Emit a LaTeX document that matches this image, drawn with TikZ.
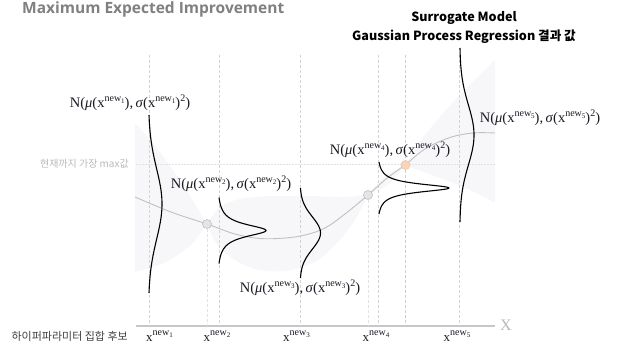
\documentclass[tikz,border=0pt]{standalone}
\usepackage{fontspec}
\newfontfamily\kr{Noto Sans CJK KR}
\newfontfamily\osans{Open Sans}
\newfontfamily\lser{Liberation Serif}
\definecolor{bandc}{RGB}{247,247,250}
\definecolor{gridc}{RGB}{210,210,210}
\definecolor{gridl}{RGB}{226,226,226}
\definecolor{meanc}{RGB}{192,192,192}
\definecolor{orangec}{RGB}{240,195,165}
\definecolor{orangef}{RGB}{249,212,188}
\definecolor{titlec}{RGB}{128,128,128}
\definecolor{lightt}{RGB}{185,185,185}
\definecolor{darkt}{RGB}{64,64,64}
\definecolor{labc}{RGB}{25,25,35}
\newcommand\supn[1]{\raisebox{0.42em}{\fontsize{10}{12}\selectfont new\raisebox{-0.22em}{\fontsize{7}{8}\selectfont #1}}}
\newcommand\nlab[1]{\lser N(\textit{μ}(x\supn{#1}),\,\textit{σ}(x\supn{#1})\raisebox{0.42em}{\fontsize{10}{12}\selectfont 2})}
\newcommand\xlab[1]{\lser x\supn{#1}}
\begin{document}
\begin{tikzpicture}[x=1pt,y=-1pt,
  band/.style={fill=bandc,draw=none},
  vgrid/.style={draw=gridc,line width=0.7pt,dash pattern=on 3pt off 2pt},
  vgridl/.style={draw=gridl,line width=0.7pt,dash pattern=on 3pt off 2pt},
  vorange/.style={draw=orangec,line width=0.7pt,dash pattern=on 3pt off 2pt},
  hdot/.style={draw=gridl,line width=0.7pt,dash pattern=on 1.5pt off 1.5pt},
  meanline/.style={draw=meanc,line width=0.9pt},
  gauss/.style={draw=black,line width=1.1pt},
  graypt/.style={circle,fill=black!10,draw=black!25,line width=0.6pt,minimum size=9pt,inner sep=0pt},
  orangept/.style={circle,fill=orangef,draw=orangec,line width=0.6pt,minimum size=9pt,inner sep=0pt},
  mlab/.style={inner sep=0pt,text=labc,font=\fontsize{14.5}{16}\selectfont},
  xl/.style={inner sep=0pt,text=labc,font=\fontsize{13}{15}\selectfont}
]
\useasboundingbox (0,0) rectangle (617,358);
% confidence band
\fill[band] plot[smooth] coordinates {(135,123) (160,152) (185,188) (207,224)}
  -- plot[smooth] coordinates {(207,224) (192,244) (170,260) (150,268) (135,272)} -- cycle;
\fill[band] plot[smooth] coordinates {(207,224) (220,207) (240,199) (270,196) (310,196) (345,197) (368,195)}
  -- plot[smooth] coordinates {(368,195) (355,220) (338,242) (315,262) (285,271) (255,269) (232,258) (216,243) (207,224)} -- cycle;
\fill[band] plot[smooth] coordinates {(368,195) (385,176) (405,165)}
  -- plot[smooth] coordinates {(405,165) (389,184) (368,195)} -- cycle;
\fill[band] plot[smooth] coordinates {(405,165) (425,135) (455,100) (495,60)}
  -- (495,203) -- plot[smooth] coordinates {(495,203) (470,190) (440,178) (418,170) (405,165)} -- cycle;
% axis
\coordinate (ax0) at (136,326);
\coordinate (ax1) at (495,326);
\draw[draw=black!22,line width=1.3pt] (ax0) -- (ax1);
\node[inner sep=0pt,text=lightt,font=\lser\fontsize{16}{18}\selectfont] (X) at (506,325.5) {X};
% current max
\coordinate (h0) at (136,164.5);
\coordinate (h1) at (495,164.5);
\draw[hdot] (h0) -- (h1);
\node[anchor=east,inner sep=0pt,text=lightt,font=\kr\fontsize{10}{12}\selectfont] (curmax) at (129,164) {현재까지 가장 max값};
% grid lines
\foreach \n/\xx in {1/149,2/219,3/300.5,4/378,5/459}{
  \coordinate (gt\n) at (\xx,55);
  \coordinate (gb\n) at (\xx,326);
  \draw[vgrid] (gt\n) -- (gb\n);
}
\coordinate (ot) at (405.5,55);
\coordinate (ob) at (405.5,326);
\draw[vorange] (ot) -- (ob);
\coordinate (p1b) at (207,326);
\coordinate (p2b) at (368,326);
\coordinate (p1c) at (207,228.5);
\coordinate (p2c) at (368,199.5);
\draw[vgridl] (p1c) -- (p1b);
\draw[vgridl] (p2c) -- (p2b);
% mean curve
\draw[meanline] plot[smooth,tension=0.6] coordinates {(135,197) (149,203) (175,213.5) (207,224) (235,234) (260,238.5) (285,238) (305,235) (325,228) (345,214) (368,195) (386,179) (405,165) (425,149) (450,137.5) (473,133) (495,133)};
% observed points
\node[graypt] (p1) at (207,224) {};
\node[graypt] (p2) at (368,195) {};
\node[orangept] (p3) at (405.5,165) {};
% gaussians
\draw[gauss] plot[domain=-89:89,samples=120,variable=\t]
  ({149+13*(exp(-(\t*\t)/(2*35*35))-exp(-(89*89)/(2*35*35)))/(1-exp(-(89*89)/(2*35*35)))},{204+\t});
\draw[gauss] plot[domain=-33:33,samples=160,variable=\t]
  ({219+47*(1/(1+(\t/7.5)^2)-1/(1+(33/7.5)^2))/(1-1/(1+(33/7.5)^2))},{230.5+\t});
\draw[gauss] plot[domain=-45:45,samples=120,variable=\t]
  ({300.5+20*(exp(-(\t*\t)/(2*16*16))-exp(-(45*45)/(2*16*16)))/(1-exp(-(45*45)/(2*16*16)))},{233+\t});
\draw[gauss] plot[domain=-26:26,samples=200,variable=\t]
  ({379+70*(1/(1+(\t/5)^2)-1/(1+(26/5)^2))/(1-1/(1+(26/5)^2))},{188+\t});
\draw[gauss] plot[domain=-87:87,samples=120,variable=\t]
  ({460+14*(exp(-(\t*\t)/(2*30*30))-exp(-(87*87)/(2*30*30)))/(1-exp(-(87*87)/(2*30*30)))},{135+\t});
% distribution labels
\node[mlab] (n1) at (130,103) {\nlab{1}};
\node[mlab] (n2) at (231,184) {\nlab{2}};
\node[mlab] (n3) at (300,288) {\nlab{3}};
\node[mlab] (n4) at (390,150) {\nlab{4}};
\node[mlab] (n5) at (540,118) {\nlab{5}};
% x labels
\node[xl] (x1) at (159.5,336) {\xlab{1}};
\node[xl] (x2) at (217,336) {\xlab{2}};
\node[xl] (x3) at (296.5,336) {\xlab{3}};
\node[xl] (x4) at (376,336) {\xlab{4}};
\node[xl] (x5) at (457,336) {\xlab{5}};
\node[anchor=east,inner sep=0pt,text=darkt,font=\kr\fontsize{11}{13}\selectfont] (cand) at (128,336) {하이퍼파라미터 집합 후보};
% titles
\node[anchor=west,inner sep=0pt,text=titlec,font=\osans\bfseries\fontsize{15.5}{17}\selectfont] (title) at (22,9.5) {Maximum Expected Improvement};
\node[inner sep=0pt,font=\kr\bfseries\fontsize{12.6}{15}\selectfont] (sm1) at (464,18) {Surrogate Model};
\node[inner sep=0pt,font=\kr\bfseries\fontsize{12.6}{15}\selectfont] (sm2) at (464,36.5) {Gaussian Process Regression 결과 값};
\end{tikzpicture}
\end{document}
